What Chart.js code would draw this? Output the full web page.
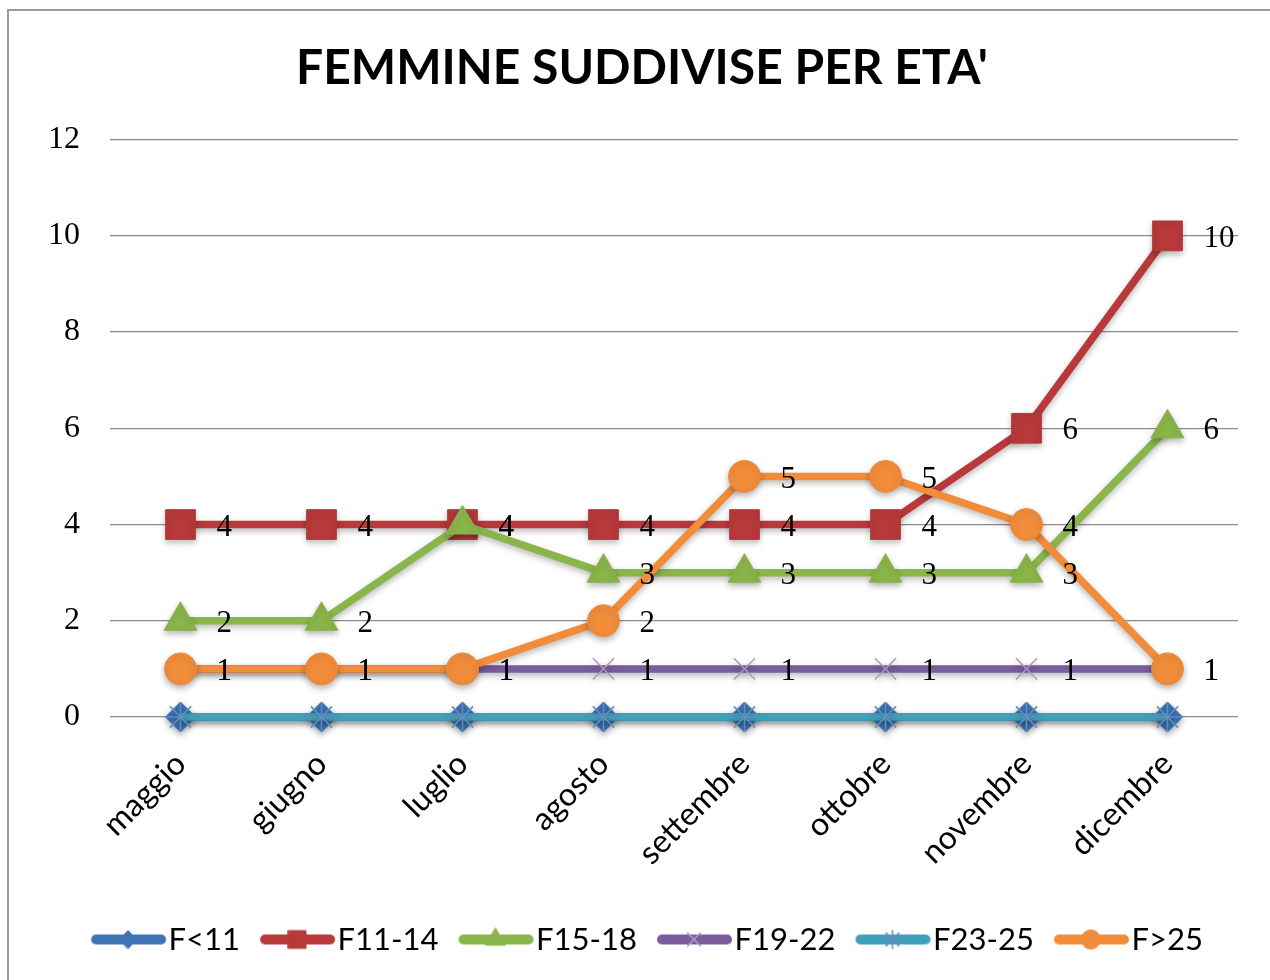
<!DOCTYPE html>
<html>
<head>
<meta charset="utf-8">
<script src="https://cdn.jsdelivr.net/npm/chart.js@4/dist/chart.umd.min.js"></script>
<style>
  html, body { margin: 0; padding: 0; background: #fff; }
  #wrap { position: relative; width: 1270px; height: 980px; }
</style>
</head>
<body>
<div id="wrap"><canvas id="chart" width="1270" height="980"></canvas></div>
<script>
// data
const mesi = ["maggio", "giugno", "luglio", "agosto", "settembre", "ottobre", "novembre", "dicembre"];
const fMeno11  = [0, 0, 0, 0, 0, 0, 0, 0];
const f11_14   = [4, 4, 4, 4, 4, 4, 6, 10];
const f15_18   = [2, 2, 4, 3, 3, 3, 3, 6];
const f19_22   = [1, 1, 1, 1, 1, 1, 1, 1];
const f23_25   = [0, 0, 0, 0, 0, 0, 0, 0];
const fPiu25   = [1, 1, 1, 2, 5, 5, 4, 1];
const serieNomi = ["F<11", "F11-14", "F15-18", "F19-22", "F23-25", "F>25"];
const yTicks = [0, 2, 4, 6, 8, 10, 12];

const SANS = "Lato, 'Open Sans', sans-serif";
const SERIF = "'Liberation Serif', 'DejaVu Serif', serif";

// style per series: colour, marker, marker size, marker stroke
const stili = [
  { color: "#3E74B5", point: "rectRot",  r: 15, pb: "#3E74B5", pw: 1 },
  { color: "#B8393A", point: "rect",     r: 21, pb: "#B8393A", pw: 1 },
  { color: "#8AB54A", point: "triangle", r: 19, pb: "#8AB54A", pw: 1 },
  { color: "#7A5B9C", point: "crossRot", r: 15, pb: "#A99BBF", pw: 1.5 },
  { color: "#3FA0BA", point: "star",     r: 15, pb: "#5E8FC0", pw: 1.5 },
  { color: "#F08C3A", point: "circle",   r: 16, pb: "#F08C3A", pw: 1 }
];
const valori = [fMeno11, f11_14, f15_18, f19_22, f23_25, fPiu25];

// legend icon: thick line with the marker in the middle
// (image is 100 wide, drawn centred on a 72 wide box -> line sits right before the text)
function icona(s) {
  const c = document.createElement("canvas");
  c.width = 100; c.height = 30;
  const ctx = c.getContext("2d");
  ctx.strokeStyle = s.color;
  ctx.lineWidth = 10;
  ctx.lineCap = "round";
  ctx.beginPath();
  ctx.moveTo(29, 15); ctx.lineTo(94, 15);
  ctx.stroke();
  ctx.fillStyle = s.color;
  ctx.strokeStyle = s.pb;
  ctx.lineWidth = s.pw;
  Chart.helpers.drawPoint(ctx, { pointStyle: s.point, radius: s.r * 0.6, borderWidth: s.pw, rotation: 0 }, 61, 15);
  return c;
}

const datasets = valori.map((v, i) => ({
  label: serieNomi[i],
  data: v,
  borderColor: stili[i].color,
  backgroundColor: stili[i].color,
  borderWidth: 7.5,
  pointStyle: stili[i].point,
  pointRadius: stili[i].r,
  pointHoverRadius: stili[i].r,
  pointBackgroundColor: stili[i].color,
  pointBorderColor: stili[i].pb,
  pointBorderWidth: stili[i].pw,
  tension: 0,
  clip: false,
  order: 6 - i   // later series on top, like the original
}));

// thin outer frame
const cornice = {
  id: "cornice",
  beforeDraw(chart) {
    const ctx = chart.ctx;
    ctx.save();
    ctx.fillStyle = "#fff";
    ctx.fillRect(0, 0, chart.width, chart.height);
    ctx.strokeStyle = "#9a9a9a";
    ctx.lineWidth = 2;
    ctx.strokeRect(8, 10, chart.width + 20, chart.height + 20);
    ctx.restore();
  }
};

// soft shadow under lines and markers
const ombra = {
  id: "ombra",
  beforeDatasetDraw(chart) {
    const ctx = chart.ctx;
    ctx.save();
    ctx.shadowColor = "rgba(0,0,0,0.28)";
    ctx.shadowBlur = 6;
    ctx.shadowOffsetY = 3;
  },
  afterDatasetDraw(chart) {
    chart.ctx.restore();
  }
};

// value labels to the right of each point (zeros are not labelled)
const etichette = {
  id: "etichette",
  afterDatasetsDraw(chart) {
    const ctx = chart.ctx;
    ctx.save();
    ctx.font = "31px " + SERIF;
    ctx.fillStyle = "#000";
    ctx.textAlign = "left";
    ctx.textBaseline = "middle";
    chart.data.datasets.forEach((ds, i) => {
      const meta = chart.getDatasetMeta(i);
      meta.data.forEach((pt, j) => {
        const v = ds.data[j];
        if (v === 0) return;
        ctx.fillText(String(v), pt.x + 36, pt.y + 3);
      });
    });
    ctx.restore();
  }
};

new Chart(document.getElementById("chart"), {
  type: "line",
  data: { labels: mesi, datasets },
  plugins: [cornice, ombra, etichette],
  options: {
    responsive: false,
    animation: false,
    events: [],
    layout: { padding: { left: 46, right: 32, top: 0, bottom: 15 } },
    plugins: {
      tooltip: { enabled: false },
      title: {
        display: true,
        text: "FEMMINE SUDDIVISE PER ETA'",
        color: "#000",
        font: { family: SANS, size: 48, weight: "bold" },
        padding: { top: 40, bottom: 42 }
      },
      legend: {
        position: "bottom",
        labels: {
          usePointStyle: true,
          pointStyleWidth: 72,
          padding: 10,
          color: "#000",
          font: { family: SANS, size: 31 },
          sort: (a, b) => a.datasetIndex - b.datasetIndex,
          generateLabels(chart) {
            return chart.data.datasets.map((ds, i) => ({
              text: ds.label,
              datasetIndex: i,
              pointStyle: icona(stili[i]),
              fillStyle: stili[i].color,
              strokeStyle: stili[i].color,
              lineWidth: 0,
              fontColor: "#000",
              hidden: false
            }));
          }
        }
      }
    },
    scales: {
      x: {
        offset: true,
        grid: { display: false },
        border: { display: false },
        ticks: {
          color: "#000",
          font: { family: SANS, size: 32 },
          minRotation: 45,
          maxRotation: 45,
          padding: 20
        },
        afterFit(axis) { axis.height = 197; }
      },
      y: {
        min: 0,
        max: 12,
        afterBuildTicks(axis) { axis.ticks = yTicks.map(v => ({ value: v })); },
        grid: { color: "#8c8c8c", lineWidth: 1.2, drawTicks: false },
        border: { display: false },
        ticks: {
          color: "#000",
          font: { family: SERIF, size: 32 },
          padding: 30
        },
        afterFit(axis) { axis.width = 64; }
      }
    }
  }
});
</script>
</body>
</html>
